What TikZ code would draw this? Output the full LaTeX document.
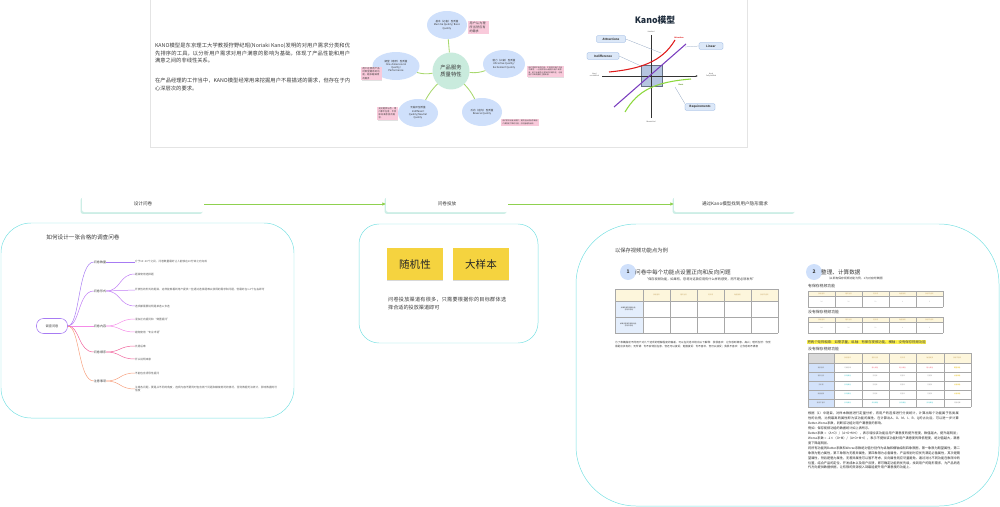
\documentclass[tikz,border=0pt]{standalone}
\usepackage{fontspec}
\setmainfont{Noto Sans CJK SC}
\XeTeXlinebreaklocale "zh"
\XeTeXlinebreakskip = 0pt plus 1pt
\usetikzlibrary{arrows.meta}
\usetikzlibrary{shapes}
\usetikzlibrary{calc}
\usetikzlibrary{shadows}

\definecolor{inkgray}{HTML}{3A3A3A}
\definecolor{cardline}{HTML}{E4E4E4}
\definecolor{panelline}{HTML}{78E0E2}
\definecolor{flowshadow}{HTML}{CDEEE6}
\definecolor{flowgreen}{HTML}{8FD14F}
\definecolor{mapgreen}{HTML}{A8D86E}
\definecolor{ovalblue}{HTML}{CFE0FB}
\definecolor{centermint}{HTML}{C9EBDD}
\definecolor{notepink}{HTML}{F9CADB}
\definecolor{stickyyellow}{HTML}{F5D33F}
\definecolor{kanotitle}{HTML}{1F2D3D}
\definecolor{kanored}{HTML}{E01A1A}
\definecolor{kanopurple}{HTML}{7B3FBF}
\definecolor{kanogreen}{HTML}{8CD83C}
\definecolor{kanobox}{HTML}{A9BCDB}
\definecolor{calloutline}{HTML}{7FA6DC}
\definecolor{calloutfill}{HTML}{DCE8F8}
\definecolor{brA}{HTML}{A77BF3}
\definecolor{brB}{HTML}{C07CF5}
\definecolor{brC}{HTML}{F58BE8}
\definecolor{brD}{HTML}{F0609A}
\definecolor{brE}{HTML}{F7A07E}
\definecolor{headcream}{HTML}{FDF6DC}
\definecolor{rowblue}{HTML}{D3E2FA}
\definecolor{tablegray}{HTML}{A8A8A8}
\definecolor{marker}{HTML}{FFF34D}
\definecolor{tanlabel}{HTML}{C8A96A}
\definecolor{qgray}{HTML}{9A9A9A}
\definecolor{apink}{HTML}{F06A7A}
\definecolor{oyellow}{HTML}{E6B800}
\definecolor{rteal}{HTML}{3CC2C8}

\newcommand{\fsz}[2]{\fontsize{#1pt}{#2pt}\selectfont}

\begin{document}
\begin{tikzpicture}[x=0.05cm, y=-0.05cm,
  every node/.style={inner sep=0pt, text=inkgray},
  card/.style={draw=cardline, fill=white},
  panel/.style={draw=panelline, line width=0.7pt, rounded corners=#1},
  para/.style={anchor=north west, align=justify, text width=#1, font=\fsz{7.5}{10.6}},
  oval/.style={ellipse, fill=ovalblue, minimum width=#1, minimum height=1.4cm, align=center, font=\fsz{3.6}{4.6}},
  pinknote/.style={fill=notepink, text width=#1, inner sep=1.5pt, align=left, drop shadow={shadow xshift=0.6pt, shadow yshift=-0.8pt, fill=black!20, opacity=0.6}},
  mapline/.style={draw=mapgreen, line width=1.2pt},
  callout/.style={draw=calloutline, fill=calloutfill, rounded corners=1.5pt, minimum height=0.33cm, font=\fsz{4.2}{5}\bfseries, text=black!75},
  leader/.style={draw=calloutline!60!gray, line width=0.3pt},
  axislabel/.style={font=\fsz{2.4}{2.9}, align=center},
  flowbox/.style={fill=white, rounded corners=3pt, minimum width=6.1cm, minimum height=0.8cm, font=\fsz{6.5}{7.5}, drop shadow={shadow xshift=-2pt, shadow yshift=-2.5pt, fill=flowshadow, opacity=1}},
  flowarrow/.style={draw=flowgreen, line width=1pt, -{Latex[length=5pt, width=5pt]}},
  branch/.style={font=\fsz{4.3}{5}},
  leaf/.style={anchor=west, font=\fsz{3.8}{5.2}, align=left, text=black!65},
  twig/.style={line width=0.7pt},
  sticky/.style={fill=stickyyellow, minimum width=2.8cm, minimum height=1.6cm, font=\fsz{15}{15}, text=black!85, drop shadow={shadow xshift=0pt, shadow yshift=-2pt, fill=black!30, opacity=0.5}},
  stepdot/.style={circle, fill=ovalblue, minimum size=0.8cm, font=\fsz{7}{7}\bfseries},
  heading/.style={anchor=west, font=\fsz{8}{9}},
  small/.style={anchor=west, font=\fsz{4.5}{5.5}},
  celltext/.style={font=\fsz{2.3}{2.9}, align=center},
  cellline/.style={draw=tablegray, line width=0.6pt}
]
\useasboundingbox (0,0) rectangle (1000,507);

\draw[card] (150,-5) rectangle (747,147);
\node[para=9.75cm] (intro) at (155,43) {KANO模型是东京理工大学教授狩野纪昭(Noriaki Kano)发明的对用户需求分类和优先排序的工具，以分析用户需求对用户满意的影响为基础，体现了产品性能和用户满意之间的非线性关系。};
\node[para=9.75cm] (usage) at (155,78) {在产品经理的工作当中，KANO模型经常用来挖掘用户不易描述的需求，但存在于内心深层次的要求。};

\node[circle, fill=centermint, minimum size=1.85cm, align=center, font=\fsz{7.5}{9.5}] (core) at (451,71) {产品服务\\质量特性};
\node[oval=2cm] (basic) at (447,25) {基本（必备）型质量\\Must-be Quality/ Basic\\Quality};
\node[oval=2.35cm] (perf) at (396,66) {期望（意愿）型质量\\One-dimensional\\Quality/\\Performance};
\node[oval=2.1cm] (attr) at (504,64) {魅力（兴奋）型质量\\Attractive Quality/\\Excitement Quality};
\node[oval=2cm] (indiff) at (418,113) {无差异型质量\\Indifferent\\Quality/Neutral\\Quality};
\node[oval=2cm] (rev) at (482,112) {反向（逆向）型质量\\Reverse Quality};
\draw[mapline] (core) -- (basic);
\draw[mapline] (core) to[bend left=12] (perf);
\draw[mapline] (core) to[bend right=12] (attr);
\draw[mapline] (core) to[bend right=8] (indiff);
\draw[mapline] (core) to[bend left=8] (rev);
\node[pinknote=0.9cm, font=\fsz{4.3}{5.6}] (basicnote) at (478.5,27.5) {用户认为理所当然应有的需求};
\node[pinknote=0.9cm, font=\fsz{3.3}{4.5}] (perfnote) at (371.5,73.5) {用户在使用产品时希望拥有的功能，越多越满意的需求};
\node[pinknote=1.7cm, font=\fsz{2.6}{3.6}] (attrnote) at (545.5,71.5) {用户意想不到的功能，不提供时用户不会不满意，一旦提供会大幅提升用户满意度，是产品差异化竞争的关键所在，也是用户口碑传播的主要来源。};
\node[pinknote=0.9cm, font=\fsz{3.1}{4.3}] (indiffnote) at (387.5,113.5) {无论提供与否，用户都不在意，不会影响满意度的需求。};
\node[pinknote=1.75cm, font=\fsz{2.6}{3.6}] (revnote) at (520,122.5) {用户根本没有此需求，提供后反而会导致用户满意度下降的功能，应尽量避免出现。};

\node[font=\fsz{12.5}{13}\bfseries, text=kanotitle] (kanotitle) at (655,20) {Kano模型};
\fill[kanobox, opacity=0.85] (641,65) rectangle (662,86);
\draw[kanobox!60!black, line width=0.4pt] (641,65) rectangle (662,86);
\draw[line width=0.6pt, black!80] (651,118) -- (651,35);
\draw[line width=0.6pt, black!80, -{Latex[length=3pt, width=2.5pt]}] (602,76) -- (698,76);
\draw[kanored, line width=1.5pt] (609,72) .. controls (640,69) and (662,62) .. (675,40);
\draw[kanopurple, line width=1.5pt] (614,107) -- (686,44);
\draw[kanogreen, line width=1.5pt] (625,112) .. controls (638,90) and (655,82) .. (691,79);
\node[axislabel] (satisfied) at (651,32) {Satisfied};
\node[axislabel] (dissatisfied) at (651,122) {Dissatisfied};
\node[axislabel, anchor=east] (unfulfilled) at (599,75) {Need\\not fulfilled};
\node[axislabel, anchor=west] (fulfilled) at (706,75) {Need\\Fully fulfilled};
\node[font=\fsz{2.6}{3}\bfseries, text=kanored] (attraction) at (679,38) {Attraction};
\node[font=\fsz{2.6}{3}\bfseries, text=kanogreen!70!black] (basiclabel) at (681,85) {Basic};
\node[callout, minimum width=1.45cm] (attractions) at (611,39) {Attractions};
\node[callout, minimum width=1.6cm] (indifference) at (603,56) {Indifference};
\node[callout, minimum width=1.2cm] (linear) at (711,46) {Linear};
\node[callout, minimum width=1.5cm] (requirements) at (700,107) {Requirements};
\coordinate (attrtip) at (661,53);
\coordinate (indtip) at (641,66);
\coordinate (lintip) at (685,47);
\coordinate (reqtip) at (675,87);
\draw[leader] (attractions.east) -- (attrtip);
\draw[leader] (indifference.east) -- (indtip);
\draw[leader] (linear.west) -- (lintip);
\draw[leader] (requirements.north west) -- (reqtip);

\node[flowbox] (design) at (143,204) {设计问卷};
\node[flowbox] (deliver) at (447,204) {问卷投放};
\node[flowbox] (discover) at (735,204) {通过Kano模型找到用户隐形需求};
\draw[flowarrow] (design) -- (deliver);
\draw[flowarrow] (deliver) -- (discover);

\draw[panel=1.5cm] (1,223) rectangle (294,418);
\node[font=\fsz{8}{9}] (howto) at (83,237) {如何设计一张合格的调查问卷};
\node[draw=brA, line width=0.8pt, rounded corners=0.35cm, minimum width=1.55cm, minimum height=0.75cm, font=\fsz{4.5}{5}] (survey) at (52,326) {调查问卷};
\node[branch] (count) at (100,262) {问卷数量};
\node[branch] (form) at (100,291) {问卷形式};
\node[branch] (content) at (100,326) {问卷内容};
\node[branch] (order) at (100,352) {问卷顺序};
\node[branch] (notice) at (100,381) {注意事项};
\node[leaf] (count1) at (135,262) {介于10\textasciitilde20个之间，问卷数量最好让人能够在10分钟之内完成};
\node[leaf] (form1) at (135,274) {题目使用选择题};
\node[leaf, text width=7.1cm] (form2) at (135,290) {开放性的形式的题目，这样能够看到用户提供一些通过选择题难以获得的需求和问题，但最好在1-2个左右即可};
\node[leaf] (form3) at (135,306) {选项都需要说明是单选or多选};
\node[leaf] (content1) at (135,319) {混杂正向提问和“倒置提问”};
\node[leaf] (content2) at (135,332) {避免使用“专业术语”};
\node[leaf] (order1) at (135,346) {先易后难};
\node[leaf] (order2) at (135,359) {开头说明来意};
\node[leaf] (notice1) at (135,373) {不能包含诱导性提问};
\node[leaf, text width=7.1cm] (notice2) at (135,389) {注意各问题，要是从不同的角度，选项内容不要同时包含两个问题和模棱两可的情况，否则数据无法统计，影响数据的可信度};
\draw[twig, brA] (survey.east) .. controls (80,326) and (78,262) .. (count.west);
\draw[twig, brB] (survey.east) .. controls (80,326) and (78,291) .. (form.west);
\draw[twig, brC] (survey.east) -- (content.west);
\draw[twig, brD] (survey.east) .. controls (80,326) and (78,352) .. (order.west);
\draw[twig, brE] (survey.east) .. controls (80,326) and (78,381) .. (notice.west);
\draw[twig, brA] (count.east) -- (count1.west);
\draw[twig, brB] (form.east) .. controls (121,291) and (119,274) .. (form1.west);
\draw[twig, brB] (form.east) -- (form2.west);
\draw[twig, brB] (form.east) .. controls (121,291) and (119,306) .. (form3.west);
\draw[twig, brC] (content.east) .. controls (121,326) and (119,319) .. (content1.west);
\draw[twig, brC] (content.east) .. controls (121,326) and (119,332) .. (content2.west);
\draw[twig, brD] (order.east) .. controls (121,352) and (119,346) .. (order1.west);
\draw[twig, brD] (order.east) .. controls (121,352) and (119,359) .. (order2.west);
\draw[twig, brE] (notice.east) .. controls (121,381) and (119,373) .. (notice1.west);
\draw[twig, brE] (notice.east) .. controls (121,381) and (119,389) .. (notice2.west);

\draw[panel=1cm] (359,224) rectangle (538,343);
\node[sticky] (random) at (415,264) {随机性};
\node[sticky] (sample) at (481,264) {大样本};
\node[para=5.9cm, font=\fsz{7.3}{11.2}] (channel) at (388,297) {问卷投放渠道有很多，只需要根据你的目标群体选择合适的投放渠道即可};

\draw[panel=3cm] (576,224) rectangle (999,506);
\node[anchor=west, font=\fsz{7.5}{8.5}] (example) at (615,251) {以保存视频功能点为例};
\node[stepdot] (one) at (628,272) {1};
\node[heading] (question) at (635,272) {问卷中每个功能点设置正向和反向问题};
\node[anchor=west, font=\fsz{4.5}{5}] (hint) at (645,279) {“保存视频功能，如果有，您将对这款应用有什么样的感受，而不是必须发布”};
\fill[headcream] (615,289) rectangle (778,301);
\fill[rowblue!60] (615,301) rectangle (643,333);
\foreach \gx in {615,643,670,697,724,751,778} \draw[cellline] (\gx,289) -- (\gx,333);
\foreach \gy in {289,301,317,333} \draw[cellline] (615,\gy) -- (778,\gy);
\foreach \t [count=\c] in {我很喜欢,理所当然,无所谓,勉强接受,我很不喜欢}
  \node[celltext, text=tanlabel] (qh\c) at ({643+27*(\c-0.5)},295) {\t};
\node[celltext] (qrow1) at (629,309) {如果有保存视频功能，\\您的评价是};
\node[celltext] (qrow2) at (629,325) {如果没有保存视频功能，\\您的评价是};
\node[para=7.8cm, font=\fsz{3.7}{6.4}, align=left] (explain) at (615,341) {为了准确描述不同用户对几个选项的理解程度的偏差，可以在问卷中给出以下解释：我很喜欢：让你感到满意、高兴；理所当然：你觉得是应该有的；无所谓：你不会特别在意，但还可以接受；勉强接受：你不喜欢，但可以接受；我很不喜欢：让你感到不满意};

\node[stepdot] (two) at (814,272) {2};
\node[heading] (tally) at (821,272) {整理、计算数据};
\node[anchor=west, font=\fsz{4}{5}] (tallyhint) at (827,278.5) {（以新有保存视频功能为例，1为对应的数据）};
\node[anchor=west, font=\fsz{5.5}{6}] (withfeat) at (808,286) {有保存视频功能};
\node[anchor=west, font=\fsz{5.5}{6}] (withoutfeat) at (808,312) {没有保存视频功能};
\foreach \tb in {291,317} {
  \fill[headcream] (808,\tb) rectangle (943,\tb+5);
  \foreach \gx in {808,835,862,889,916,943} \draw[cellline] (\gx,\tb) -- (\gx,\tb+16);
  \foreach \gy in {0,5,16} \draw[cellline] (808,\tb+\gy) -- (943,\tb+\gy);
  \foreach \t [count=\c] in {我很喜欢,理所当然,无所谓,勉强接受,我很不喜欢}
    \node[celltext, text=tanlabel] (sh\c) at ({808+27*(\c-0.5)},\tb+2.5) {\t};
  \foreach \t [count=\c] in {34,20,12,8,6}
    \node[celltext, text=qgray] (sv\c) at ({808+27*(\c-0.5)},\tb+10.5) {\t};
}
\node[anchor=west, fill=marker, inner sep=0.6pt, font=\fsz{4.8}{5.5}] (multiply) at (807,342) {把两个矩阵相乘：如需求量，纵轴：有保存视频功能，横轴：没有保存视频功能};
\node[anchor=west, font=\fsz{5.5}{6}] (matrixtitle) at (808,349) {没有保存视频功能};
\fill[black!15] (808,353) rectangle (834,363);
\fill[headcream] (834,353) rectangle (971,363);
\fill[rowblue] (808,363) rectangle (834,407);
\foreach \gx in {808,834,862,889,916,944,971} \draw[cellline] (\gx,353) -- (\gx,407);
\foreach \gy in {353,363,372,381,390,399,407} \draw[cellline] (808,\gy) -- (971,\gy);
\foreach \t [count=\c] in {我很喜欢,理所当然,无所谓,勉强接受,我很不喜欢} {
  \node[celltext, text=tanlabel] (kh\c) at ({834+27.4*(\c-0.5)},358) {\t};
  \node[celltext, text=black!55] (kr\c) at (821,{363+8.8*(\c-0.5)}) {\t};
}
\foreach \t/\col [count=\c] in {可疑结果/qgray,魅力属性/apink,魅力属性/apink,魅力属性/apink,期望属性/oyellow}
  \node[celltext, text=\col] (ka\c) at ({834+27.4*(\c-0.5)},367.4) {\t};
\foreach \ry [count=\r] in {376.2,385,393.8} {
  \foreach \t/\col [count=\c] in {反向属性/rteal,无差异/qgray,无差异/qgray,无差异/qgray,必备属性/oyellow}
    \node[celltext, text=\col] (km\r\c) at ({834+27.4*(\c-0.5)},\ry) {\t};
}
\foreach \t/\col [count=\c] in {反向属性/rteal,反向属性/rteal,反向属性/rteal,反向属性/rteal,可疑结果/qgray}
  \node[celltext, text=\col] (kz\c) at ({834+27.4*(\c-0.5)},402.6) {\t};
\node[para=7.6cm, font=\fsz{4.5}{7}, align=left, text=black!85] (result) at (808,412) {根据（1）中题目，对样本数据进行定量分析，将用户的选择进行分类统计，计算出每个功能属于各类属性的比例，比例最高的属性即为该功能的属性。在计算出A、O、M、I、R、Q的占比后，可以进一步计算Better-Worse系数，判断该功能对用户满意度的影响。\par 例如：保存视频功能的数据统计如上表所示。\par Better系数 =（A+O）/（A+O+M+I），表示增加该功能后用户满意度的提升程度，数值越大，提升越明显；Worse系数 = -1×（O+M）/（A+O+M+I），表示不提供该功能时用户满意度的降低程度，绝对值越大，满意度下降越明显。\par 将所有功能的Better系数和Worse系数绝对值分别作为纵轴和横轴绘制四象限图，第一象限为期望属性，第二象限为魅力属性，第三象限为无差异属性，第四象限为必备属性。产品规划时应优先满足必备属性，其次是期望属性，然后是魅力属性，无差异属性可以暂不考虑，反向属性则应尽量避免。通过对比不同功能在象限中的位置，结合产品的定位、开发成本以及用户反馈，即可确定功能的优先级，找到用户的隐形需求，为产品的迭代方向提供数据依据，让有限的资源投入到最能提升用户满意度的功能上。};
\end{tikzpicture}
\end{document}
